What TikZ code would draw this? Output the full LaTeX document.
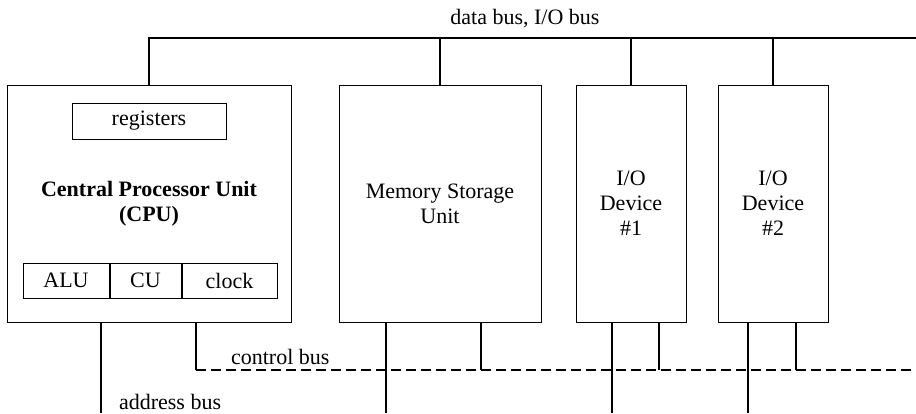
\documentclass[tikz,border=0pt]{standalone}
\usepackage{fontspec}
\setmainfont{Liberation Serif}
\usetikzlibrary{positioning}

\tikzset{
  unit/.style={draw, line width=0.5pt, inner sep=0pt, align=center},
  part/.style={draw, line width=0.5pt, inner sep=0pt, minimum height=17.5pt},
  bus/.style={line width=1.4pt},
  ctlbus/.style={line width=1.4pt, dash pattern=on 5pt off 2.5pt}
}

\begin{document}
\begin{tikzpicture}[x=0.5pt, y=-0.5pt, font=\fontsize{11}{12.4}\selectfont]
\useasboundingbox (0,0) rectangle (916,413);

    \node[unit, minimum width=142pt, minimum height=118.5pt] (cpu) at (149,203.5)
        {\textbf{Central Processor Unit}\\\textbf{(CPU)}};
    \node[unit, minimum width=101pt, minimum height=118.5pt] (mem) at (440,203.5)
        {Memory Storage\\Unit};
    \node[unit, minimum width=55pt, minimum height=118.5pt] (io1) at (631,203.5)
        {I/O\\Device\\\#1};
    \node[unit, minimum width=55pt, minimum height=118.5pt] (io2) at (773,203.5)
        {I/O\\Device\\\#2};

    \node[unit, minimum width=77pt, minimum height=18pt] (reg) at (149,121) {registers};
    \node[part, minimum width=43pt] (alu) at (66,280.5) {ALU};
    \node[part, minimum width=35.5pt, right=0pt of alu] (cu) {CU};
    \node[part, minimum width=47.5pt, right=0pt of cu] (clk) {clock};

    % bus ends
    \coordinate (dbus) at (916,38);
    \coordinate (cbus0) at (196,370);
    \coordinate (cbus) at (916,370);
    \coordinate (ab0) at (101,413);
    \coordinate (ab1) at (386,413);
    \coordinate (ab2) at (612,413);
    \coordinate (ab3) at (748,413);

\draw[bus] (cpu.north) |- (dbus);
\node (dblabel) at (525,19) {data bus, I/O bus};
\draw[bus] (mem.north) -- (mem.north |- dbus);
\draw[bus] (io1.north) -- (io1.north |- dbus);
\draw[bus] (io2.north) -- (io2.north |- dbus);

\draw[bus] (cpu.south -| cbus0) -- (cbus0);
\draw[ctlbus] (cbus0) -- (cbus);
\node[anchor=west] (cblabel) at (224,357) {control bus};
\draw[bus] (mem.south -| 481,0) -- (481,370);
\draw[bus] (io1.south -| 659,0) -- (659,370);
\draw[bus] (io2.south -| 796,0) -- (796,370);

\draw[bus] (cpu.south -| ab0) -- (ab0);
\draw[bus] (mem.south -| ab1) -- (ab1);
\draw[bus] (io1.south -| ab2) -- (ab2);
\draw[bus] (io2.south -| ab3) -- (ab3);
\node[anchor=west] (ablabel) at (112,402) {address bus};

\end{tikzpicture}
\end{document}
